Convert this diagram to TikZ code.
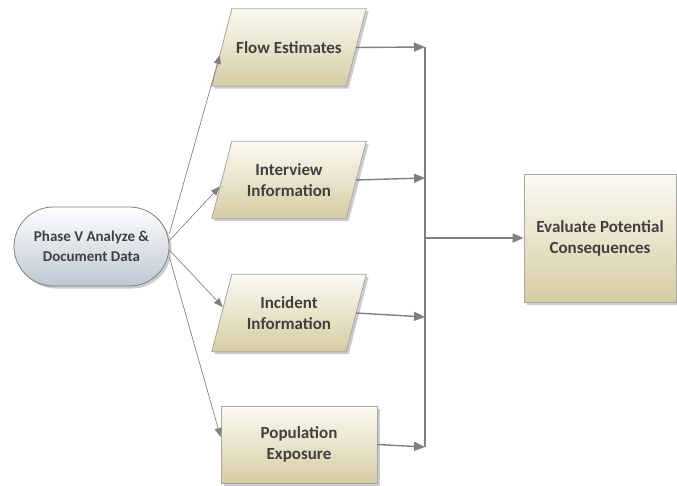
\documentclass[tikz,border=0pt]{standalone}
\usepackage{fontspec}
\setmainfont{Carlito}
\usetikzlibrary{shapes.misc,arrows.meta,shadows}
\definecolor{txt}{HTML}{404040}
\definecolor{boxline}{HTML}{A6A6A6}
\definecolor{creamtop}{HTML}{FBFAF3}
\definecolor{creambot}{HTML}{D6CDA3}
\definecolor{bluebot}{HTML}{BCC8D3}
\definecolor{conn}{HTML}{808080}
\pgfdeclarelayer{bg}
\pgfsetlayers{bg,main}
\begin{document}
\begin{tikzpicture}[x=1pt,y=-1pt,
  boxfont/.style={font=\bfseries\fontsize{17}{21}\selectfont, text=txt, align=center, inner sep=0pt},
  shadowed/.style={drop shadow={opacity=0.4,shadow xshift=2.5pt,shadow yshift=-2.5pt}},
  cream/.style={draw=boxline, line width=0.8pt, top color=creamtop, bottom color=creambot, shadowed},
  paratext/.style={boxfont, rectangle, minimum width=134pt, minimum height=77pt},
  rectbox/.style={boxfont, cream, rectangle},
  startbox/.style={boxfont, shadowed, rounded rectangle, top color=white, bottom color=bluebot,
    draw=conn, line width=0.8pt, minimum width=155pt, minimum height=79pt, font=\bfseries\fontsize{15}{20}\selectfont},
  thinarrow/.style={draw=conn, line width=0.6pt, -{Triangle[length=9pt,width=7pt]}, fill=conn},
  busarrow/.style={draw=conn, line width=1.4pt, -{Triangle[length=11pt,width=9pt]}},
  busline/.style={draw=conn, line width=1.4pt}]
\useasboundingbox (0,0) rectangle (677,486);

\node[startbox] (pv) at (91.5,246.5) {Phase V Analyze \&\\Document Data};
\node[paratext] (flow) at (289,47.5) {Flow Estimates};
\node[paratext] (intv) at (289,180) {Interview\\Information};
\node[paratext] (inc) at (289,313) {Incident\\Information};
\node[rectbox, minimum width=156pt, minimum height=77pt] (pop) at (299,444.5) {Population\\Exposure};
\node[rectbox, minimum width=152pt, minimum height=128pt] (ev) at (600,238) {Evaluate Potential\\Consequences};

\begin{pgfonlayer}{bg}
\foreach \n in {flow,intv,inc}{
  \path[cream] ([xshift=10pt]\n.north west) -- ([xshift=10pt]\n.north east)
    -- ([xshift=-10pt]\n.south east) -- ([xshift=-10pt]\n.south west) -- cycle;
}
\end{pgfonlayer}

\coordinate (b1) at (425,47);
\coordinate (b2) at (425,178);
\coordinate (b3) at (425,317);
\coordinate (b4) at (425,447);
\coordinate (bm) at (425,238);

\draw[thinarrow] ([yshift=13pt]pv.east) -- ([yshift=-7.5pt,xshift=-2pt]flow.west);
\draw[thinarrow] ([yshift=6pt]pv.east) -- ([yshift=-6.5pt,xshift=-2pt]intv.west);
\draw[thinarrow] ([yshift=-3.5pt]pv.east) -- ([yshift=6pt,xshift=1pt]inc.west);
\draw[thinarrow] ([yshift=-10.5pt]pv.east) -- ([yshift=7.5pt]pop.west);

\draw[busline] (b1) -- (b4);
\draw[busarrow] (flow.east) -- (b1);
\draw[busarrow] (intv.east) -- (b2);
\draw[busarrow] (inc.east) -- (b3);
\draw[busarrow] (pop.east) -- (b4);
\draw[busarrow] (bm) -- (ev.west);
\end{tikzpicture}
\end{document}
